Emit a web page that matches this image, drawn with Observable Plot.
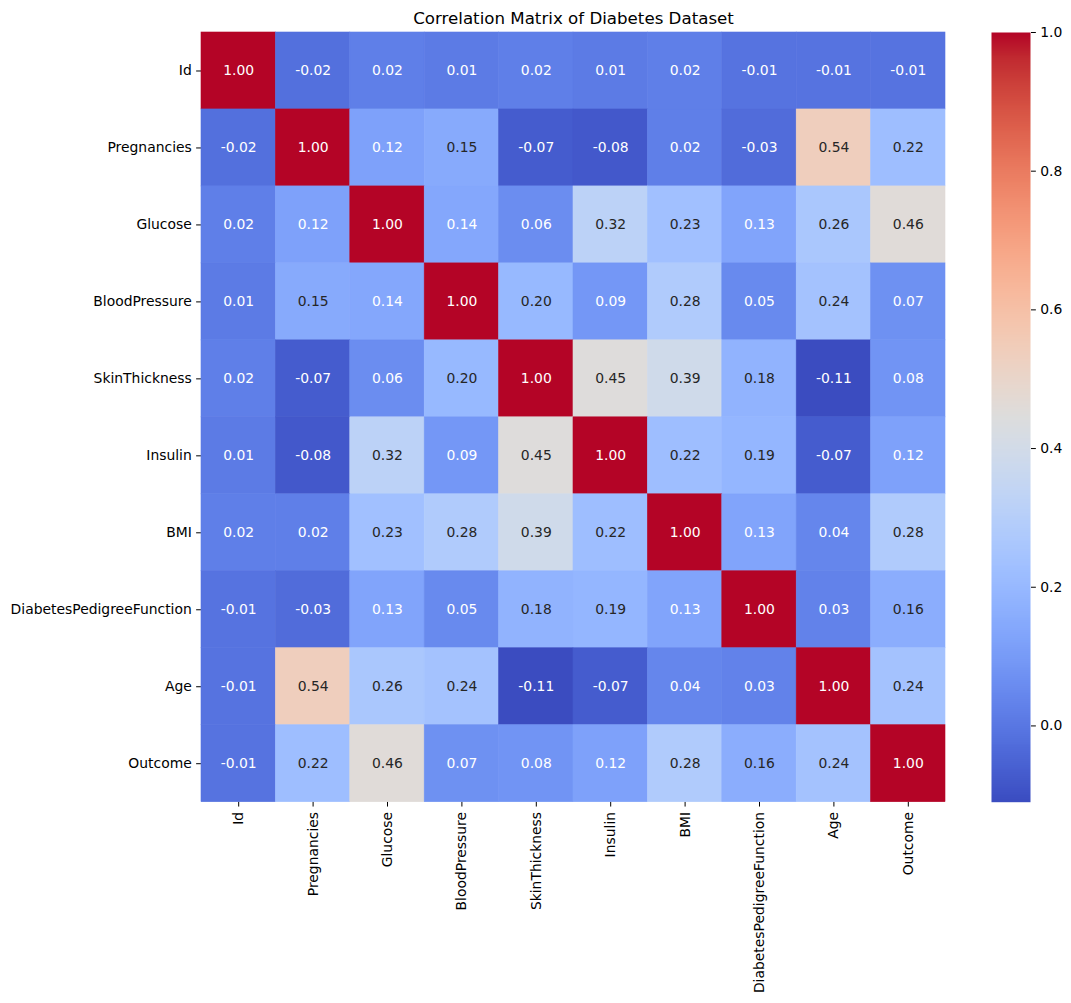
<!DOCTYPE html>
<html>
<head>
<meta charset="utf-8">
<script src="https://cdn.jsdelivr.net/npm/d3@7"></script>
<script src="https://cdn.jsdelivr.net/npm/@observablehq/plot@0.6"></script>
<style>
  body { margin: 0; background: #fff; font-family: "DejaVu Sans", sans-serif; }
  #wrap { position: relative; width: 1071px; height: 1003px; background: #fff; }
  #wrap svg { position: absolute; top: 0; }
</style>
</head>
<body>
<div id="wrap"></div>
<script>
const title = "Correlation Matrix of Diabetes Dataset";
const names = ["Id", "Pregnancies", "Glucose", "BloodPressure", "SkinThickness", "Insulin", "BMI", "DiabetesPedigreeFunction", "Age", "Outcome"];

const rowId            = [ 1.00, -0.02, 0.02, 0.01,  0.02,  0.01, 0.02, -0.01, -0.01, -0.01];
const rowPregnancies   = [-0.02,  1.00, 0.12, 0.15, -0.07, -0.08, 0.02, -0.03,  0.54,  0.22];
const rowGlucose       = [ 0.02,  0.12, 1.00, 0.14,  0.06,  0.32, 0.23,  0.13,  0.26,  0.46];
const rowBloodPressure = [ 0.01,  0.15, 0.14, 1.00,  0.20,  0.09, 0.28,  0.05,  0.24,  0.07];
const rowSkinThickness = [ 0.02, -0.07, 0.06, 0.20,  1.00,  0.45, 0.39,  0.18, -0.11,  0.08];
const rowInsulin       = [ 0.01, -0.08, 0.32, 0.09,  0.45,  1.00, 0.22,  0.19, -0.07,  0.12];
const rowBMI           = [ 0.02,  0.02, 0.23, 0.28,  0.39,  0.22, 1.00,  0.13,  0.04,  0.28];
const rowDPF           = [-0.01, -0.03, 0.13, 0.05,  0.18,  0.19, 0.13,  1.00,  0.03,  0.16];
const rowAge           = [-0.01,  0.54, 0.26, 0.24, -0.11, -0.07, 0.04,  0.03,  1.00,  0.24];
const rowOutcome       = [-0.01,  0.22, 0.46, 0.07,  0.08,  0.12, 0.28,  0.16,  0.24,  1.00];

const colorbarTicks = [0.0, 0.2, 0.4, 0.6, 0.8, 1.0];

const rows = [rowId, rowPregnancies, rowGlucose, rowBloodPressure, rowSkinThickness, rowInsulin, rowBMI, rowDPF, rowAge, rowOutcome];
const table = [];
names.forEach((r, i) => names.forEach((c, j) => table.push({row: r, col: c, value: rows[i][j]})));

const vmin = d3.min(table, d => d.value);
const vmax = 1.0;

// matplotlib "coolwarm" segment data
const CR = [0.2298057,0.26623388,0.30386891,0.342804478,0.38301334,0.424369608,0.46666708,0.509635204,0.552953156,0.596262162,0.639176211,0.681291281,0.722193294,0.761464949,0.798691636,0.833466556,0.865395197,0.897787179,0.924127593,0.944468518,0.958852946,0.96732803,0.969954137,0.966811177,0.958003065,0.943660866,0.923944917,0.89904617,0.869186849,0.834620542,0.795631745,0.752534934,0.705673158];
const CG = [0.298717966,0.353094838,0.406535296,0.458757618,0.50941904,0.558148092,0.604562568,0.648280772,0.688929332,0.726149107,0.759599947,0.788964712,0.813952739,0.834302879,0.849786142,0.860207984,0.86541021,0.848937047,0.827384882,0.800927443,0.769767752,0.734132809,0.694266682,0.650421156,0.602842431,0.551750968,0.49730856,0.439559467,0.378313092,0.312874446,0.24128379,0.157246067,0.01555616];
const CB = [0.753683153,0.801466763,0.84495867,0.883725899,0.917387822,0.945619588,0.968154911,0.98478814,0.995375608,0.999836203,0.998151185,0.990363227,0.976574709,0.956945269,0.931688648,0.901068838,0.865395561,0.820880546,0.774508472,0.726736146,0.678007945,0.628751763,0.579375448,0.530263762,0.481775914,0.434243684,0.387970225,0.343229596,0.300267182,0.259404847,0.221951938,0.188361303,0.150232812];

function cwRGB(t) {
  t = Math.max(0, Math.min(1, t));
  const p = t * 32;
  const i = Math.min(31, Math.floor(p));
  const f = p - i;
  return [CR[i] + (CR[i+1]-CR[i])*f, CG[i] + (CG[i+1]-CG[i])*f, CB[i] + (CB[i+1]-CB[i])*f];
}
function coolwarm(t) {
  const [r, g, b] = cwRGB(t);
  return `rgb(${Math.round(r*255)},${Math.round(g*255)},${Math.round(b*255)})`;
}
function lum(v) {
  const rgb = cwRGB((v - vmin) / (vmax - vmin)).map(c => c <= 0.03928 ? c / 12.92 : Math.pow((c + 0.055) / 1.055, 2.4));
  return 0.2126*rgb[0] + 0.7152*rgb[1] + 0.0722*rgb[2];
}

const colorOpts = {type: "linear", domain: [vmin, vmax], interpolate: coolwarm};
const H = 1003, frameTop = 32, frameBottom = 801.7;

const main = Plot.plot({
  width: 960, height: H,
  marginLeft: 201, marginRight: 15, marginTop: frameTop, marginBottom: H - frameBottom,
  style: {fontFamily: "DejaVu Sans", fontSize: "13.9px", background: "white", color: "black"},
  x: {domain: names, padding: 0, round: false, tickRotate: -90, tickSize: 4.86, tickPadding: 4.86, label: null},
  y: {domain: names, padding: 0, round: false, tickSize: 4.86, tickPadding: 4.86, label: null},
  color: colorOpts,
  marks: [
    Plot.cell(table, {x: "col", y: "row", fill: "value", stroke: "value", strokeWidth: 0.6, inset: 0}),
    Plot.text(table, {x: "col", y: "row", text: d => d.value.toFixed(2), filter: d => lum(d.value) <= 0.408, fill: "white", fontSize: 13.9}),
    Plot.text(table, {x: "col", y: "row", text: d => d.value.toFixed(2), filter: d => lum(d.value) > 0.408, fill: "#262626", fontSize: 13.9}),
    Plot.text([title], {text: d => d, frameAnchor: "top", lineAnchor: "bottom", dy: -8.3, fontSize: 16.67, fill: "black"})
  ]
});
main.style.left = "0px";

const cb = Plot.plot({
  width: 80, height: H,
  marginLeft: 0, marginRight: 41, marginTop: frameTop, marginBottom: H - frameBottom,
  style: {fontFamily: "DejaVu Sans", fontSize: "13.9px", background: "transparent", color: "black"},
  x: {domain: [0, 1], axis: null},
  y: {domain: [vmin, vmax], axis: "right", ticks: colorbarTicks, tickFormat: d => d.toFixed(1), tickSize: 4.86, tickPadding: 4.86, label: null},
  color: colorOpts,
  marks: [
    Plot.raster({x1: 0, x2: 1, y1: vmin, y2: vmax, width: 1, height: 400, fill: (x, y) => y})
  ]
});
cb.style.left = "991px";

const wrap = document.getElementById("wrap");
wrap.appendChild(main);
wrap.appendChild(cb);
</script>
</body>
</html>
